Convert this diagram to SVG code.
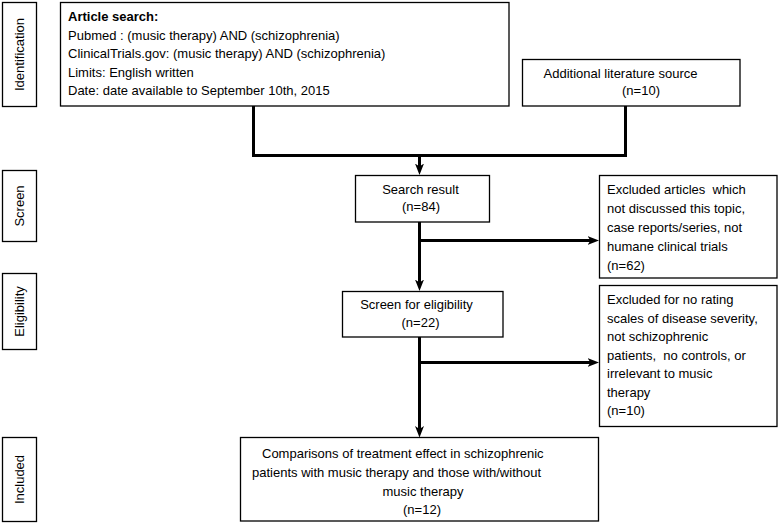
<svg xmlns="http://www.w3.org/2000/svg" width="779" height="524" viewBox="0 0 779 524">
<style>
  .box { fill: #ffffff; stroke: #000000; stroke-width: 1.3; }
  .t { font-family: "Liberation Sans", Arial, Helvetica, sans-serif; font-size: 13px; fill: #000000; }
  .b { font-weight: bold; }
  .c { text-anchor: middle; }
  .side { text-anchor: middle; dominant-baseline: central; }
  .conn { fill: none; stroke: #000000; stroke-width: 3; stroke-linejoin: miter; }
  .arr { marker-end: url(#ah); }
</style>
<defs>
  <marker id="ah" markerUnits="userSpaceOnUse" markerWidth="12" markerHeight="10" viewBox="0 0 12 10" refX="5" refY="5" orient="auto">
    <path d="M0,0.5 L11.5,5 L0,9.5 L3,5 Z" fill="#000000"/>
  </marker>
</defs>
<rect x="0" y="0" width="779" height="524" fill="#ffffff"/>

<g id="label-identification">
  <rect class="box" x="2.5" y="2.5" width="34" height="104"/>
  <text class="t side" x="19.5" y="54.5" transform="rotate(-90 19.5 54.5)">Identification</text>
</g>
<g id="label-screen">
  <rect class="box" x="2.5" y="170.5" width="34" height="71"/>
  <text class="t side" x="19.5" y="206" transform="rotate(-90 19.5 206)">Screen</text>
</g>
<g id="label-eligibility">
  <rect class="box" x="2.5" y="273.5" width="34" height="76"/>
  <text class="t side" x="19.5" y="311.5" transform="rotate(-90 19.5 311.5)">Eligibility</text>
</g>
<g id="label-included">
  <rect class="box" x="2.5" y="437.5" width="34" height="84"/>
  <text class="t side" x="19.5" y="479.5" transform="rotate(-90 19.5 479.5)">Included</text>
</g>

<g id="node-article-search">
  <rect class="box" x="60.5" y="2.5" width="448.5" height="103.5"/>
  <text class="t b" x="68" y="21">Article search:</text>
  <text class="t" x="68" y="39.5">Pubmed : (music therapy) AND (schizophrenia)</text>
  <text class="t" x="68" y="58">ClinicalTrials.gov: (music therapy) AND (schizophrenia)</text>
  <text class="t" x="68" y="76.5">Limits: English written</text>
  <text class="t" x="68" y="95">Date: date available to September 10th, 2015</text>
</g>

<g id="node-additional">
  <rect class="box" x="522.5" y="59.5" width="217.5" height="46.5"/>
  <text class="t c" x="620.5" y="78">Additional literature source</text>
  <text class="t c" x="641" y="94.5">(n=10)</text>
</g>

<g id="node-search-result">
  <rect class="box" x="355.5" y="175.5" width="134" height="46.5"/>
  <text class="t c" x="420.5" y="194">Search result</text>
  <text class="t c" x="421" y="211">(n=84)</text>
</g>

<g id="node-excluded-1">
  <rect class="box" x="599.5" y="175.5" width="177.5" height="102.5"/>
  <text class="t" x="607" y="194" xml:space="preserve">Excluded articles  which</text>
  <text class="t" x="607" y="213">not discussed this topic,</text>
  <text class="t" x="607" y="232">case reports/series, not</text>
  <text class="t" x="607" y="251">humane clinical trials</text>
  <text class="t" x="607" y="270">(n=62)</text>
</g>

<g id="node-eligibility">
  <rect class="box" x="342.5" y="291.5" width="160.5" height="45.5"/>
  <text class="t c" x="416.5" y="309">Screen for eligibility</text>
  <text class="t c" x="420.5" y="326.5">(n=22)</text>
</g>

<g id="node-excluded-2">
  <rect class="box" x="599.5" y="285.5" width="177.5" height="141"/>
  <text class="t" x="607" y="304">Excluded for no rating</text>
  <text class="t" x="607" y="322.5">scales of disease severity,</text>
  <text class="t" x="607" y="341">not schizophrenic</text>
  <text class="t" x="607" y="359.5" xml:space="preserve">patients,  no controls, or</text>
  <text class="t" x="607" y="378">irrelevant to music</text>
  <text class="t" x="607" y="396.5">therapy</text>
  <text class="t" x="607" y="415">(n=10)</text>
</g>

<g id="node-included">
  <rect class="box" x="240.5" y="437.5" width="358" height="83.5"/>
  <text class="t" x="262" y="458">Comparisons of treatment effect in schizophrenic</text>
  <text class="t" x="252" y="477">patients with music therapy and those with/without</text>
  <text class="t c" x="423" y="496">music therapy</text>
  <text class="t c" x="422" y="514">(n=12)</text>
</g>

<g id="connectors">
  <path class="conn" d="M253.5,106 V155.5 H625.5 V106"/>
  <path class="conn arr" d="M419.5,155.5 V168.5"/>
  <path class="conn arr" d="M419.5,222 V284.5"/>
  <path class="conn arr" d="M419.5,240.5 H592.5"/>
  <path class="conn arr" d="M419.5,337 V431"/>
  <path class="conn arr" d="M419.5,362.5 H592.5"/>
</g>
</svg>
